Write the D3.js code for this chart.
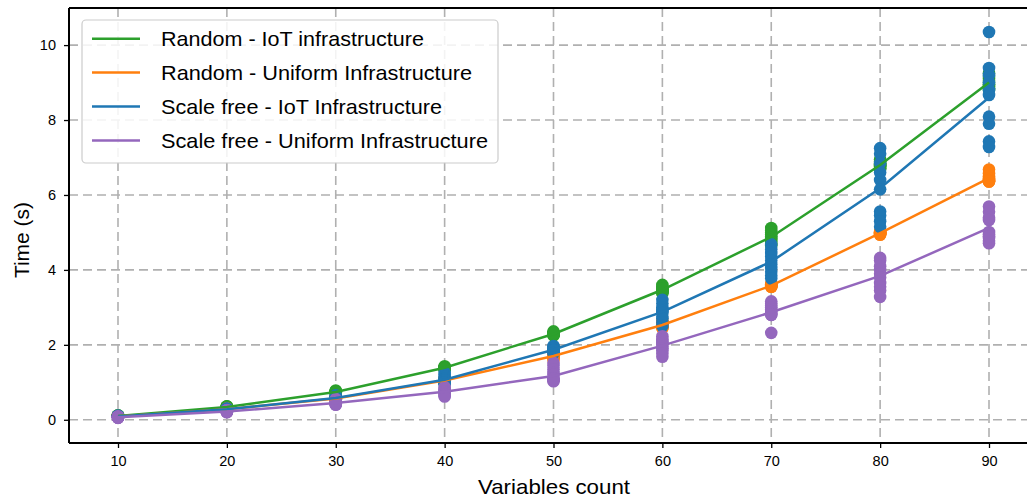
<!DOCTYPE html>
<html>
<head>
<meta charset="utf-8">
<script src="https://cdn.jsdelivr.net/npm/d3@7"></script>
<style>
  html, body { margin: 0; padding: 0; background: #fff; }
  svg { display: block; }
  text { font-family: "Liberation Sans", Arial, sans-serif; fill: #000; }
</style>
</head>
<body>
<svg id="chart" width="1027" height="497"></svg>
<script>
// ---- data ----
const xValues = [10, 20, 30, 40, 50, 60, 70, 80, 90];
const xTicks = [10, 20, 30, 40, 50, 60, 70, 80, 90];
const yTicks = [0, 2, 4, 6, 8, 10];
const seriesLabels = [
  "Random - IoT infrastructure",
  "Random - Uniform Infrastructure",
  "Scale free - IoT Infrastructure",
  "Scale free - Uniform Infrastructure"
];
const seriesColors = ["#2ca02c", "#ff7f0e", "#1f77b4", "#9467bd"];

// mean lines
const randomIoTMean     = [0.10, 0.34, 0.74, 1.39, 2.29, 3.47, 4.88, 6.80, 9.00];
const randomUniformMean = [0.09, 0.28, 0.57, 1.05, 1.70, 2.53, 3.58, 4.98, 6.45];
const scaleIoTMean      = [0.09, 0.28, 0.58, 1.07, 1.87, 2.88, 4.22, 6.18, 8.60];
const scaleUniformMean  = [0.07, 0.22, 0.45, 0.75, 1.17, 1.98, 2.87, 3.84, 5.12];

// individual runs (one row per x value)
const randomIoTRuns = [
  [0.12,0.11,0.10,0.10,0.09,0.10,0.11,0.09,0.10,0.10],
  [0.36,0.35,0.34,0.33,0.34,0.35,0.33,0.34,0.32,0.34],
  [0.78,0.76,0.74,0.73,0.72,0.74,0.75,0.73,0.72,0.74],
  [1.43,1.40,1.38,1.36,1.35,1.40,1.38,1.37,1.39,1.36],
  [2.36,2.32,2.30,2.28,2.26,2.25,2.30,2.27,2.28,2.30],
  [3.60,3.55,3.50,3.48,3.45,3.42,3.40,3.38,3.45,3.50],
  [5.12,5.05,5.00,4.95,4.90,4.85,4.80,4.75,4.70,4.65],
  [6.95,6.90,6.85,6.80,6.75,6.70,6.80,6.75,6.70,6.80],
  [9.25,9.10,9.00,8.95,8.85,9.05,8.90,9.15,8.80,8.95]
];
const randomUniformRuns = [
  [0.10,0.09,0.09,0.08,0.09,0.10,0.08,0.09,0.09,0.10],
  [0.30,0.29,0.28,0.28,0.27,0.29,0.28,0.27,0.30,0.28],
  [0.60,0.58,0.57,0.55,0.56,0.57,0.58,0.55,0.56,0.57],
  [1.10,1.08,1.05,1.03,1.00,1.05,1.07,1.02,1.04,1.06],
  [1.75,1.72,1.70,1.68,1.70,1.72,1.65,1.70,1.68,1.60],
  [2.65,2.60,2.55,2.55,2.50,2.50,2.45,2.50,2.55,2.45],
  [3.60,3.62,3.58,3.55,3.57,3.60,3.63,3.55,3.58,3.60],
  [5.00,4.98,4.95,4.97,5.02,4.96,4.99,5.01,4.94,5.00],
  [6.68,6.58,6.50,6.45,6.42,6.40,6.38,6.36,6.37,6.36]
];
const scaleIoTRuns = [
  [0.11,0.10,0.09,0.09,0.08,0.09,0.10,0.08,0.09,0.09],
  [0.30,0.29,0.28,0.27,0.28,0.29,0.27,0.28,0.28,0.26],
  [0.65,0.62,0.60,0.58,0.56,0.55,0.58,0.57,0.56,0.55],
  [1.25,1.20,1.15,1.10,1.08,1.05,1.00,0.98,0.95,1.00],
  [1.97,1.95,1.92,1.90,1.88,1.85,1.82,1.80,1.85,1.78],
  [3.20,3.10,3.00,2.95,2.90,2.85,2.75,2.70,2.60,2.50],
  [4.68,4.55,4.45,4.35,4.25,4.15,4.05,3.95,3.85,3.77],
  [7.25,7.10,6.85,6.60,6.40,6.15,5.56,5.45,5.30,5.15],
  [10.35,9.39,9.20,9.00,8.80,8.67,8.09,7.90,7.43,7.28]
];
const scaleUniformRuns = [
  [0.09,0.08,0.07,0.06,0.07,0.06,0.08,0.05,0.07,0.06],
  [0.26,0.25,0.24,0.23,0.22,0.21,0.20,0.21,0.22,0.23],
  [0.55,0.50,0.48,0.45,0.43,0.42,0.41,0.40,0.42,0.44],
  [0.87,0.83,0.80,0.77,0.75,0.73,0.70,0.67,0.64,0.62],
  [1.52,1.45,1.35,1.25,1.20,1.10,1.07,1.03,1.05,1.10],
  [2.23,2.15,2.10,2.05,2.00,1.95,1.90,1.85,1.77,1.68],
  [3.16,3.10,3.05,3.00,2.95,2.90,2.85,2.80,2.80,2.32],
  [4.32,4.25,4.10,4.00,3.90,3.80,3.65,3.55,3.45,3.28],
  [5.69,5.55,5.40,5.33,5.01,4.95,4.85,4.78,4.71,4.90]
];

const means = [randomIoTMean, randomUniformMean, scaleIoTMean, scaleUniformMean];
const runs = [randomIoTRuns, randomUniformRuns, scaleIoTRuns, scaleUniformRuns];

// ---- layout ----
const svg = d3.select("#chart");
const plotLeft = 69, plotRight = 1038, plotTop = 8, plotBottom = 443;

const x = d3.scaleLinear().domain([5.5, 94.5]).range([plotLeft, plotRight]);
const y = d3.scaleLinear().domain([-0.62, 10.99]).range([plotBottom, plotTop]);

// grid
const grid = svg.append("g");
grid.selectAll("line.gx").data(xTicks).join("line")
  .attr("x1", d => x(d)).attr("x2", d => x(d))
  .attr("y1", plotTop).attr("y2", plotBottom)
  .attr("stroke", "#b0b0b0").attr("stroke-width", 1.6)
  .attr("stroke-dasharray", "9,5");
grid.selectAll("line.gy").data(yTicks).join("line")
  .attr("x1", plotLeft).attr("x2", plotRight)
  .attr("y1", d => y(d)).attr("y2", d => y(d))
  .attr("stroke", "#b0b0b0").attr("stroke-width", 1.6)
  .attr("stroke-dasharray", "9,5");

// scatter points
runs.forEach((series, si) => {
  const pts = [];
  series.forEach((row, xi) => row.forEach(v => pts.push([xValues[xi], v])));
  svg.append("g").selectAll("circle").data(pts).join("circle")
    .attr("cx", d => x(d[0])).attr("cy", d => y(d[1]))
    .attr("r", 6.3)
    .attr("fill", seriesColors[si]);
});

// mean lines
const line = d3.line().x((d, i) => x(xValues[i])).y(d => y(d));
means.forEach((m, si) => {
  svg.append("path").datum(m)
    .attr("d", line)
    .attr("fill", "none")
    .attr("stroke", seriesColors[si])
    .attr("stroke-width", 2.5);
});

// axes
const xAxis = d3.axisBottom(x).tickValues(xTicks).tickSize(5).tickPadding(8).tickFormat(d3.format("d"));
const yAxis = d3.axisLeft(y).tickValues(yTicks).tickSize(5).tickPadding(8).tickFormat(d3.format("d"));

const gx = svg.append("g").attr("transform", `translate(0,${plotBottom})`).call(xAxis);
const gy = svg.append("g").attr("transform", `translate(${plotLeft},0)`).call(yAxis);
[gx, gy].forEach(g => {
  g.select(".domain").remove();
  g.selectAll(".tick line").attr("stroke", "#000").attr("stroke-width", 1.3);
  g.selectAll(".tick text").attr("font-size", 14.5).attr("fill", "#000")
    .style("font-family", "'Liberation Sans', Arial, sans-serif");
});

// spines
svg.append("line").attr("x1", plotLeft).attr("x2", plotLeft).attr("y1", plotTop).attr("y2", plotBottom)
  .attr("stroke", "#000").attr("stroke-width", 2);
svg.append("line").attr("x1", plotLeft).attr("x2", plotRight).attr("y1", plotBottom).attr("y2", plotBottom)
  .attr("stroke", "#000").attr("stroke-width", 2);
svg.append("line").attr("x1", plotLeft).attr("x2", plotRight).attr("y1", plotTop).attr("y2", plotTop)
  .attr("stroke", "#000").attr("stroke-width", 2);

// axis labels
svg.append("text").attr("x", 478).attr("y", 494)
  .attr("font-size", 21).attr("textLength", 152).attr("lengthAdjust", "spacingAndGlyphs")
  .text("Variables count");
svg.append("text").attr("transform", "translate(29,240) rotate(-90)")
  .attr("text-anchor", "middle").attr("font-size", 21).text("Time (s)");

// legend
const lg = svg.append("g");
lg.append("rect").attr("x", 82).attr("y", 20).attr("width", 416).attr("height", 143)
  .attr("rx", 4).attr("fill", "#fff").attr("fill-opacity", 0.85)
  .attr("stroke", "#cccccc").attr("stroke-width", 1.2);
const rowY = [38.7, 72.5, 106.5, 140.5];
const labelWidths = [263, 311, 281, 327];
seriesLabels.forEach((lab, i) => {
  lg.append("line").attr("x1", 92).attr("x2", 140).attr("y1", rowY[i]).attr("y2", rowY[i])
    .attr("stroke", seriesColors[i]).attr("stroke-width", 2.5);
  lg.append("text").attr("x", 161).attr("y", rowY[i] + 7.5).attr("font-size", 21)
    .attr("textLength", labelWidths[i]).attr("lengthAdjust", "spacingAndGlyphs")
    .text(lab);
});
</script>
</body>
</html>
